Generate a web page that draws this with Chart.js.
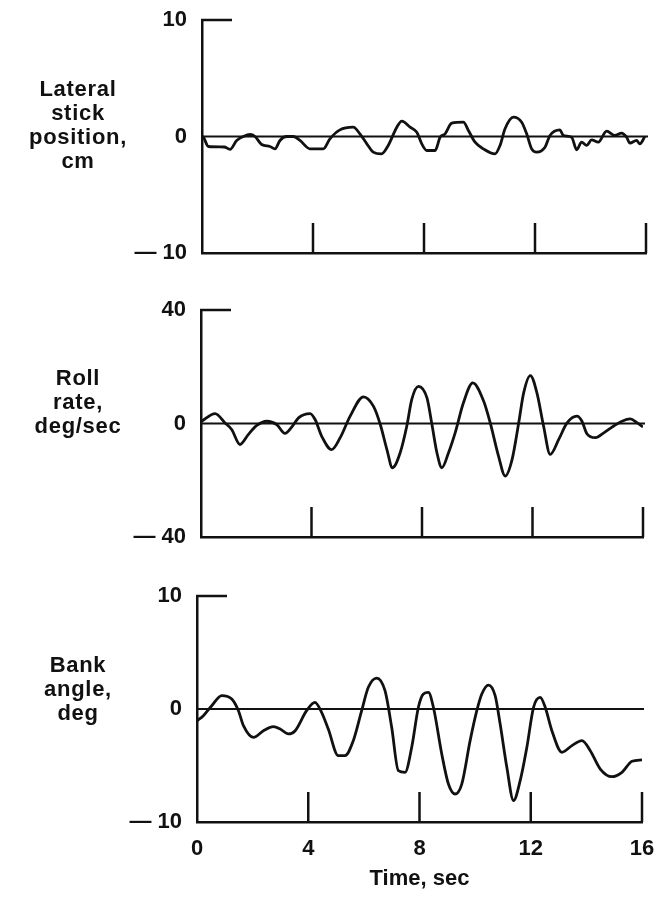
<!DOCTYPE html>
<html><head><meta charset="utf-8">
<script src="https://cdn.jsdelivr.net/npm/chart.js@4.4.1/dist/chart.umd.min.js"></script>
<style>
html,body{margin:0;padding:0;background:#fff;}
#page{position:relative;width:657px;height:901px;overflow:hidden;background:#fff;font-family:"Liberation Sans",Arial,Helvetica,sans-serif;}
.band{position:absolute;left:0;width:657px;}
.lab{position:absolute;left:18px;width:120px;text-align:center;font-weight:bold;font-size:22px;line-height:24px;letter-spacing:0.7px;color:#111;}
</style></head><body>
<div id="page">
  <div class="band" style="top:0px;height:280px"><canvas id="c1"></canvas></div>
  <div class="band" style="top:280px;height:290px"><canvas id="c2"></canvas></div>
  <div class="band" style="top:570px;height:331px"><canvas id="c3"></canvas></div>
  <div class="lab" style="top:77px">Lateral<br>stick<br>position,<br>cm</div>
  <div class="lab" style="top:366px">Roll<br>rate,<br>deg/sec</div>
  <div class="lab" style="top:653px">Bank<br>angle,<br>deg</div>
</div>
<script>
// ---- data ----
const xTickValues = [0, 4, 8, 12, 16];
const xTickLabels = ['0', '4', '8', '12', '16'];
const xTitle = 'Time, sec';

const stickTickValues = [-10, 0, 10];
const stickTickLabels = ['\u2014 10', '0', '10'];
const stickTime = [0,0.05,0.23,0.8,1.01,1.25,1.49,1.73,1.91,2.15,2.45,2.63,2.81,3.05,3.29,3.53,3.89,4.37,4.61,4.97,5.45,5.69,5.94,6.17,6.47,6.71,7.02,7.2,7.5,7.74,7.92,8.1,8.4,8.58,8.76,9.0,9.42,9.6,9.84,10.14,10.56,10.74,10.92,11.22,11.52,11.7,11.88,12.06,12.36,12.54,12.9,13.02,13.32,13.5,13.68,13.86,14.04,14.28,14.58,14.88,15.12,15.3,15.42,15.66,15.78,15.96];
const stickValues = [0,-0.06,-0.86,-0.9,-1.1,-0.34,0,0.17,0,-0.69,-0.86,-1.06,-0.34,0,0,-0.34,-1.06,-1.06,-0.2,0.57,0.8,0.23,-0.63,-1.34,-1.49,-0.77,0.8,1.32,0.8,0.37,-0.63,-1.2,-1.2,-0.06,0.23,1.14,1.23,0.52,-0.49,-1.06,-1.49,-0.77,0.66,1.66,1.23,0.23,-1.06,-1.34,-0.92,0.09,0.57,0.09,-0.06,-1.14,-0.49,-0.77,-0.29,-0.49,0.46,0.09,0.29,-0.06,-0.57,-0.34,-0.63,0];

const rollTickValues = [-40, 0, 40];
const rollTickLabels = ['\u2014 40', '0', '40'];
const rollTime = [0.02,0.51,0.87,1.11,1.41,1.71,2.02,2.38,2.74,3.04,3.29,3.53,3.95,4.13,4.37,4.73,5.04,5.4,5.88,6.24,6.49,6.73,6.93,7.21,7.45,7.63,7.87,8.18,8.36,8.54,8.72,8.96,9.2,9.5,9.84,10.23,10.47,10.77,11.01,11.26,11.5,11.68,11.92,12.16,12.4,12.64,12.95,13.25,13.61,13.79,13.97,14.28,14.58,14.94,15.24,15.54,15.79,16.0];
const rollValues = [0.8,3.5,0.2,-2.1,-7.4,-3.9,-0.7,0.8,-0.35,-3.5,-1.2,2.0,3.5,1.4,-4.5,-9.2,-5.0,2.6,9.4,6.1,-0.35,-9.2,-15.6,-10.3,-0.9,8.5,13.1,9.0,-0.35,-10.3,-15.6,-10.3,-3.3,7.3,14.3,7.9,0.2,-11.5,-18.5,-12.7,0.2,10.8,16.9,10.8,-0.9,-10.9,-5.6,0.2,2.6,0.8,-3.6,-5.0,-3.3,-0.9,0.8,1.6,0.2,-1.2];

const bankTickValues = [-10, 0, 10];
const bankTickLabels = ['\u2014 10', '0', '10'];
const bankTime = [0,0.23,0.53,0.89,1.25,1.49,1.67,2.03,2.39,2.75,2.99,3.29,3.53,3.94,4.24,4.48,4.72,5.08,5.32,5.62,5.92,6.16,6.46,6.76,7.0,7.24,7.48,7.72,7.96,8.14,8.32,8.5,8.8,9.04,9.28,9.52,9.82,10.06,10.24,10.48,10.72,10.9,11.14,11.38,11.62,11.86,12.1,12.34,12.52,12.76,13.12,13.48,13.84,14.14,14.5,14.92,15.28,15.64,16.0];
const bankValues = [-1.05,-0.59,0.29,1.18,0.88,-0.15,-1.47,-2.51,-1.92,-1.56,-1.77,-2.21,-1.92,-0.15,0.59,-0.29,-1.77,-4.13,-4.13,-2.8,-0.15,1.92,2.74,1.62,-1.62,-5.46,-5.6,-3.39,0.15,1.33,1.47,0.15,-3.98,-6.64,-7.52,-6.64,-2.8,-0.15,1.33,2.12,1.18,-1.33,-5.16,-8.1,-6.34,-3.39,0.15,1.03,0.15,-1.92,-3.83,-3.24,-2.8,-3.69,-5.31,-5.99,-5.6,-4.63,-4.51];

// ---- drawing ----
const INK = '#111';
const FONT = {family: "'Liberation Sans', Arial, Helvetica, sans-serif", size: 22, weight: 'bold'};

const frameMarks = {
  id: 'frameMarks',
  afterDatasetsDraw(chart, args, opts) {
    const {ctx, chartArea, scales: {x, y}} = chart;
    ctx.save();
    ctx.strokeStyle = INK;
    ctx.lineCap = 'butt';
    ctx.lineWidth = 2.2;
    const y0 = y.getPixelForValue(0);
    ctx.beginPath();
    ctx.moveTo(x.getPixelForValue(x.min), y0);
    ctx.lineTo(x.getPixelForValue(x.max) + 2, y0);
    ctx.stroke();
    ctx.lineWidth = 2.5;
    const yt = y.getPixelForValue(y.max);
    ctx.beginPath();
    ctx.moveTo(chartArea.left - 1, yt);
    ctx.lineTo(chartArea.left + opts.stub, yt);
    ctx.stroke();
    const yb = y.getPixelForValue(y.min);
    opts.ticks.forEach(v => {
      if (v === x.min) return;
      const px = x.getPixelForValue(v);
      ctx.beginPath();
      ctx.moveTo(px, yb);
      ctx.lineTo(px, yb - opts.tickLen);
      ctx.stroke();
    });
    ctx.restore();
  }
};

function makePanel(id, times, values, tickVals, tickLabels, g, showX) {
  const pts = times.map((t, i) => ({x: t, y: values[i]}));
  return new Chart(document.getElementById(id), {
    type: 'line',
    data: {datasets: [{
      data: pts, borderColor: INK, borderWidth: 2.8, pointRadius: 0,
      cubicInterpolationMode: 'monotone', fill: false
    }]},
    plugins: [frameMarks],
    options: {
      responsive: true, maintainAspectRatio: false, animation: false, events: [],
      layout: {padding: {left: 0, right: 657 - g.right, top: g.top - g.bandTop, bottom: 0}},
      plugins: {legend: {display: false}, tooltip: {enabled: false},
        frameMarks: {stub: 30, tickLen: 30, ticks: xTickValues}},
      scales: {
        x: {
          type: 'linear', min: 0, max: 16,
          afterBuildTicks: s => { s.ticks = xTickValues.map(v => ({value: v})); },
          afterFit: s => { s.height = g.bandTop + g.bandH - g.bottom; s.paddingLeft = 0; s.paddingRight = 0; },
          grid: {display: false, drawTicks: false},
          border: {display: true, color: INK, width: 2.5},
          ticks: {display: showX, color: INK, font: FONT, padding: 14, maxRotation: 0,
            callback: (v, i) => xTickLabels[i]},
          title: {display: showX, text: xTitle, color: INK, font: FONT, padding: {top: 0, bottom: 9}}
        },
        y: {
          type: 'linear', min: tickVals[0], max: tickVals[tickVals.length - 1],
          afterBuildTicks: s => { s.ticks = tickVals.map(v => ({value: v})); },
          afterFit: s => { s.width = g.left; s.paddingTop = 0; s.paddingBottom = 0; },
          grid: {display: false, drawTicks: false},
          border: {display: true, color: INK, width: 2.5},
          ticks: {color: INK, font: FONT, padding: 15,
            callback: (v, i) => tickLabels[i]}
        }
      }
    }
  });
}

makePanel('c1', stickTime, stickValues, stickTickValues, stickTickLabels,
  {bandTop: 0, bandH: 280, left: 202, right: 646, top: 20, bottom: 253}, false);
makePanel('c2', rollTime, rollValues, rollTickValues, rollTickLabels,
  {bandTop: 280, bandH: 290, left: 201, right: 643, top: 310, bottom: 537}, false);
makePanel('c3', bankTime, bankValues, bankTickValues, bankTickLabels,
  {bandTop: 570, bandH: 331, left: 197, right: 642, top: 596, bottom: 822}, true);
</script>
</body></html>
